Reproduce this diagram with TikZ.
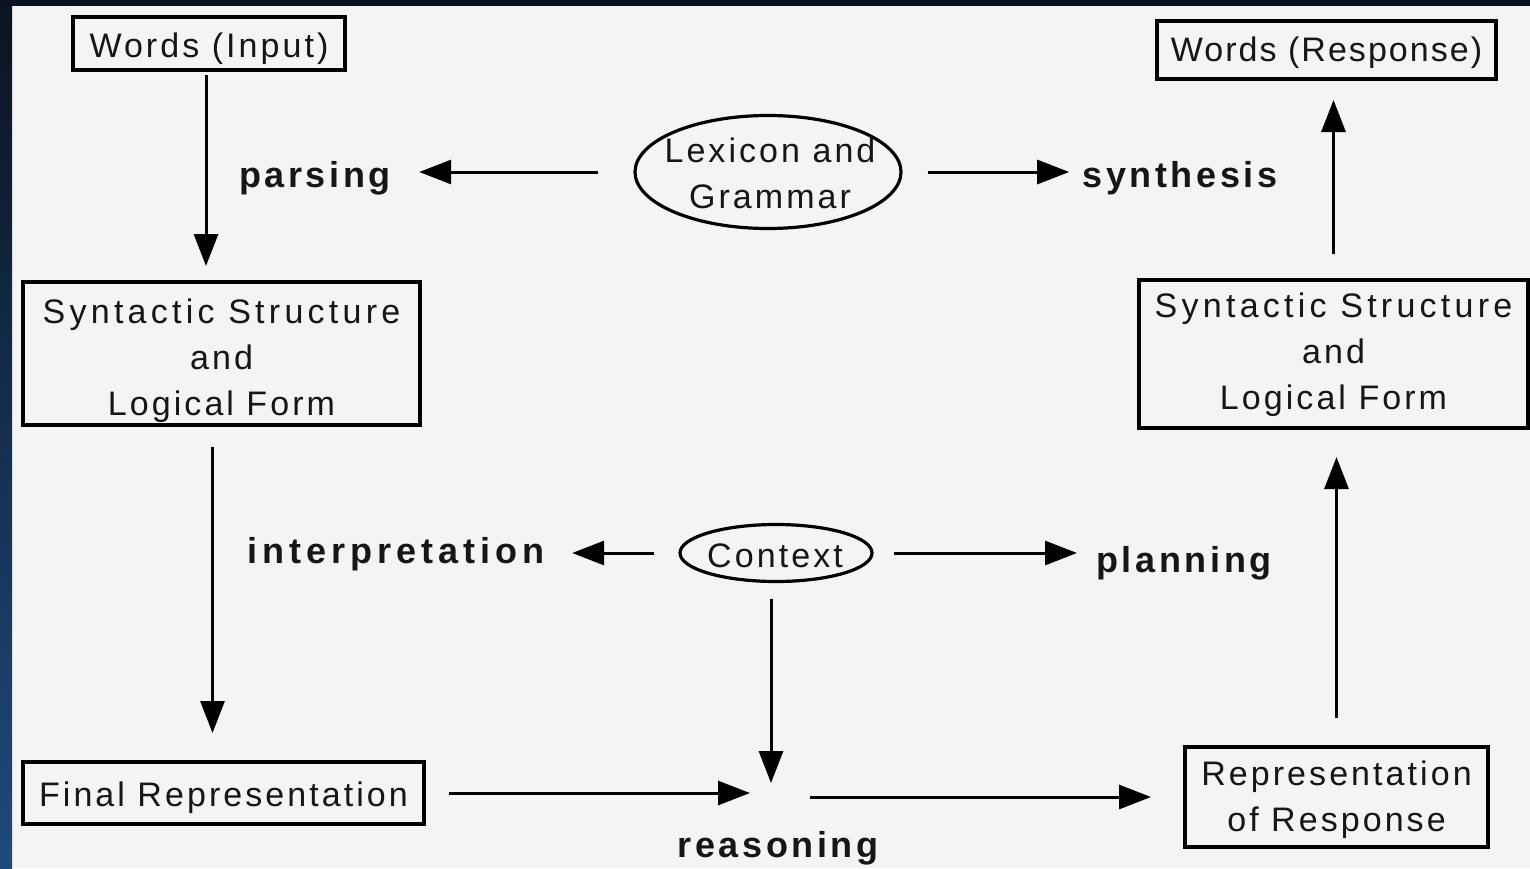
\documentclass[tikz,border=0pt]{standalone}
\usepackage{fontspec}
\setmainfont{Liberation Sans}
\newfontfamily\regf{Liberation Sans}[LetterSpace=9]
\newfontfamily\boldf{Liberation Sans}[LetterSpace=10]
\usetikzlibrary{shapes.geometric,arrows.meta}
\definecolor{panel}{HTML}{F4F4F4}
\definecolor{stripTop}{HTML}{0B1320}
\definecolor{stripBot}{HTML}{1F4A7C}
\definecolor{ink}{HTML}{161616}
\newcommand\boxtxt[2]{\raisebox{-#1}[\height][\depth]{\begin{tabular}{@{}c@{}}#2\end{tabular}}}
\newcommand\wide[1]{{\addfontfeature{LetterSpace=12.5}#1}}
\begin{document}
\begin{tikzpicture}[x=0.5pt,y=-0.5pt,
  box/.style={draw=black,line width=2pt,inner sep=0pt,font=\regf\fontsize{17}{23}\selectfont,text=ink},
  oval/.style={draw=black,ellipse,line width=1.6pt,inner sep=0pt},
  otext/.style={inner sep=0pt,font=\regf\fontsize{17}{23}\selectfont,text=ink},
  lbl/.style={inner sep=0pt,font=\boldf\bfseries\fontsize{18}{22}\selectfont,anchor=base,text=ink},
  arr/.style={line width=1.5pt,-{Triangle[length=16pt,width=12pt]}}]
\useasboundingbox (0,0) rectangle (1530,868);
\fill[panel] (0,0) rectangle (1530,868);
\shade[top color=stripTop,bottom color=stripBot] (0,0) rectangle (12,868);
\fill[stripTop] (0,0) rectangle (1530,6);
% boxes
\node[box,minimum width=136pt,minimum height=26.5pt] (win) at (209,43.5) {\boxtxt{2.6pt}{Words (Input)}};
\node[box,minimum width=169.5pt,minimum height=29pt] (wresp) at (1326.5,50) {\boxtxt{0.9pt}{{\addfontfeature{LetterSpace=6}Words (Response)}}};
\node[box,minimum width=198.5pt,minimum height=71.5pt] (synL) at (221.5,353.5) {\boxtxt{3.2pt}{\wide{Syntactic Structure}\\and\\Logical Form}};
\node[box,minimum width=194.5pt,minimum height=74pt] (synR) at (1333.5,354) {\boxtxt{0pt}{\wide{Syntactic Structure}\\and\\Logical Form}};
\node[box,minimum width=200.5pt,minimum height=31pt] (final) at (223.5,793) {\boxtxt{2.2pt}{Final Representation}};
\node[box,minimum width=151.5pt,minimum height=50pt] (rresp) at (1336.5,797) {\boxtxt{1pt}{Representation\\of Response}};
% ellipses
\node[oval,minimum width=133pt,minimum height=56.5pt] (lex) at (768,172) {};
\node[otext] (lext) at (770,175) {\boxtxt{0.5pt}{Lexicon and\\Grammar}};
\node[oval,minimum width=96pt,minimum height=28.5pt] (ctx) at (776,553) {};
\node[otext] (ctxt) at (775,553) {\boxtxt{2.5pt}{Context}};
% labels
\node[lbl] (parsing) at (315,187) {parsing};
\node[lbl] (synthesis) at (1180,187) {synthesis};
\node[lbl] (interp) at (396,563) {{\addfontfeature{LetterSpace=14}interpretation}};
\node[lbl] (planning) at (1184,572) {planning};
\node[lbl] (reasoning) at (778,857) {reasoning};
\coordinate (rsn) at (771,792);
\coordinate (sl) at ([xshift=-4.5pt]synL.south);
\coordinate (cs) at ([xshift=-2.5pt]ctx.south);
\coordinate (ws) at ([xshift=-1.5pt]win.south);
% arrows
\draw[arr,shorten <=1.5pt,shorten >=7pt] (ws) -- (ws |- synL.north);
\draw[arr,shorten <=17.5pt,shorten >=14pt] (lex.west) -- (lex.west -| parsing.east);
\draw[arr,shorten <=12.5pt,shorten >=6.5pt] (lex.east) -- (lex.east -| synthesis.west);
\draw[arr,shorten <=12pt,shorten >=9.5pt] (synR.north) -- (synR.north |- wresp.south);
\draw[arr,shorten <=10pt,shorten >=13.5pt] (sl) -- (sl |- final.north);
\draw[arr,shorten <=12pt,shorten >=13.5pt] (ctx.west) -- (ctx.west -| interp.east);
\draw[arr,shorten <=10pt,shorten >=9.5pt] (ctx.east) -- (ctx.east -| planning.west);
\draw[arr,shorten <=8pt,shorten >=4.5pt] (cs) -- (cs |- rsn);
\draw[arr,shorten <=11.5pt,shorten >=10.5pt] (final.east) -- (final.east -| rsn);
\draw[arr,shorten <=19.5pt,shorten >=16pt] (rsn |- rresp.west) -- (rresp.west);
\draw[arr,shorten <=13.5pt,shorten >=13.5pt] (rresp.north) -- (rresp.north |- synR.south);
\end{tikzpicture}
\end{document}
